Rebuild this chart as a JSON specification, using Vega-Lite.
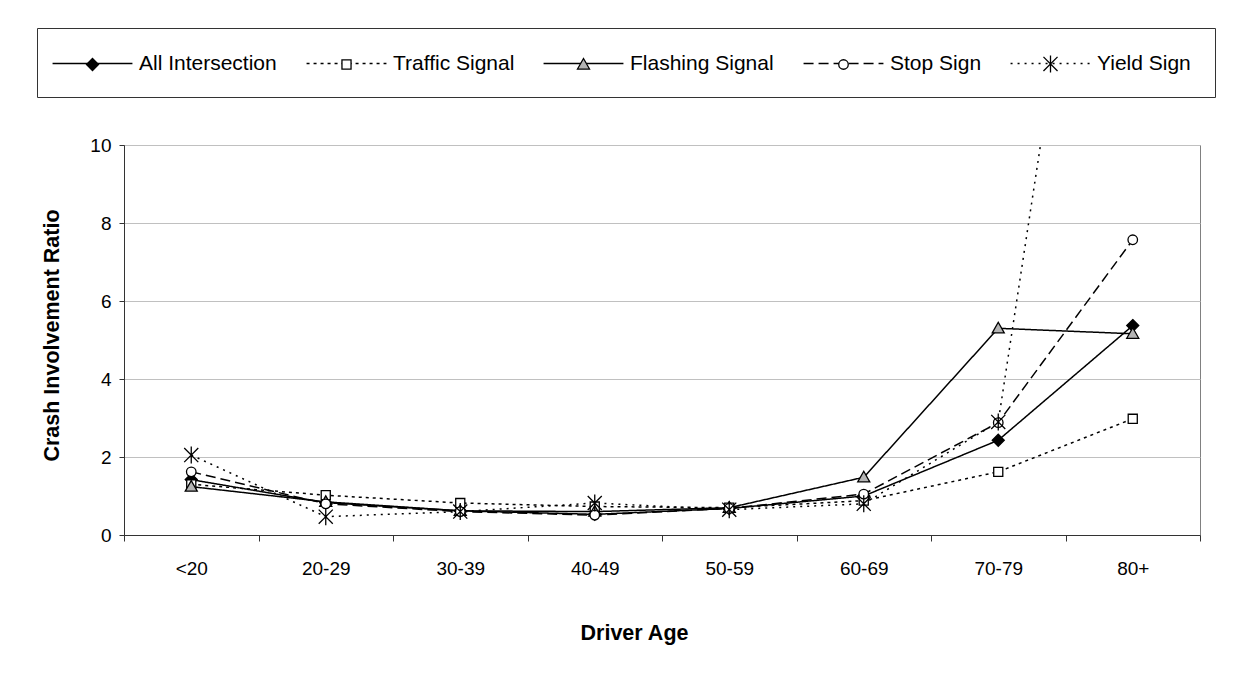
{
  "$schema": "https://vega.github.io/schema/vega-lite/v6.json",
  "width": 1076,
  "height": 390,
  "autosize": {"type": "none"},
  "padding": {"left": 124, "top": 145, "right": 33, "bottom": 152},
  "background": "white",
  "config": {
    "font": "Liberation Sans",
    "view": {"stroke": "#808080", "strokeWidth": 1},
    "axis": {
      "labelFont": "Liberation Sans",
      "titleFont": "Liberation Sans",
      "labelColor": "black",
      "titleColor": "black",
      "labelFontSize": 19,
      "titleFontSize": 21.5,
      "titleFontWeight": "bold",
      "domainColor": "#333333",
      "tickColor": "#333333"
    }
  },
  "data": {
    "values": [
      {"series": "All Intersection", "age": "<20", "ratio": 1.42},
      {"series": "All Intersection", "age": "20-29", "ratio": 0.83},
      {"series": "All Intersection", "age": "30-39", "ratio": 0.62},
      {"series": "All Intersection", "age": "40-49", "ratio": 0.53},
      {"series": "All Intersection", "age": "50-59", "ratio": 0.68},
      {"series": "All Intersection", "age": "60-69", "ratio": 1.0},
      {"series": "All Intersection", "age": "70-79", "ratio": 2.43},
      {"series": "All Intersection", "age": "80+", "ratio": 5.37},
      {"series": "Traffic Signal", "age": "<20", "ratio": 1.3},
      {"series": "Traffic Signal", "age": "20-29", "ratio": 1.02},
      {"series": "Traffic Signal", "age": "30-39", "ratio": 0.82},
      {"series": "Traffic Signal", "age": "40-49", "ratio": 0.73},
      {"series": "Traffic Signal", "age": "50-59", "ratio": 0.7},
      {"series": "Traffic Signal", "age": "60-69", "ratio": 0.88},
      {"series": "Traffic Signal", "age": "70-79", "ratio": 1.62},
      {"series": "Traffic Signal", "age": "80+", "ratio": 2.98},
      {"series": "Flashing Signal", "age": "<20", "ratio": 1.24},
      {"series": "Flashing Signal", "age": "20-29", "ratio": 0.85},
      {"series": "Flashing Signal", "age": "30-39", "ratio": 0.62},
      {"series": "Flashing Signal", "age": "40-49", "ratio": 0.6},
      {"series": "Flashing Signal", "age": "50-59", "ratio": 0.7},
      {"series": "Flashing Signal", "age": "60-69", "ratio": 1.48},
      {"series": "Flashing Signal", "age": "70-79", "ratio": 5.3},
      {"series": "Flashing Signal", "age": "80+", "ratio": 5.16},
      {"series": "Stop Sign", "age": "<20", "ratio": 1.62},
      {"series": "Stop Sign", "age": "20-29", "ratio": 0.8},
      {"series": "Stop Sign", "age": "30-39", "ratio": 0.6},
      {"series": "Stop Sign", "age": "40-49", "ratio": 0.51},
      {"series": "Stop Sign", "age": "50-59", "ratio": 0.68},
      {"series": "Stop Sign", "age": "60-69", "ratio": 1.05},
      {"series": "Stop Sign", "age": "70-79", "ratio": 2.88},
      {"series": "Stop Sign", "age": "80+", "ratio": 7.57},
      {"series": "Yield Sign", "age": "<20", "ratio": 2.05},
      {"series": "Yield Sign", "age": "20-29", "ratio": 0.47},
      {"series": "Yield Sign", "age": "30-39", "ratio": 0.6},
      {"series": "Yield Sign", "age": "40-49", "ratio": 0.82},
      {"series": "Yield Sign", "age": "50-59", "ratio": 0.65},
      {"series": "Yield Sign", "age": "60-69", "ratio": 0.8},
      {"series": "Yield Sign", "age": "70-79", "ratio": 2.9},
      {"series": "Yield Sign", "age": "80+", "ratio": 25.5}
    ]
  },
  "encoding": {
    "x": {
      "field": "age",
      "type": "ordinal",
      "sort": ["<20", "20-29", "30-39", "40-49", "50-59", "60-69", "70-79", "80+"],
      "scale": {"type": "band", "paddingInner": 0, "paddingOuter": 0},
      "axis": {
        "title": "Driver Age",
        "labelAngle": 0,
        "tickBand": "extent",
        "tickSize": 6,
        "labelPadding": 18,
        "grid": false,
        "titleX": 510,
        "titleY": 98,
        "titleAlign": "center",
        "titleBaseline": "middle"
      }
    },
    "y": {
      "field": "ratio",
      "type": "quantitative",
      "scale": {"domain": [0, 10], "nice": false, "zero": true},
      "axis": {
        "title": "Crash Involvement Ratio",
        "values": [0, 2, 4, 6, 8, 10],
        "tickSize": 5,
        "labelPadding": 8,
        "grid": true,
        "gridColor": "#C0C0C0",
        "gridWidth": 1,
        "titleX": -72,
        "titleY": 190,
        "titleAlign": "center",
        "titleBaseline": "middle"
      }
    }
  },
  "layer": [
    {
      "mark": {"type": "line", "clip": true, "color": "black", "strokeWidth": 1.5},
      "encoding": {
        "order": {"value": null},
        "strokeDash": {
          "field": "series",
          "type": "nominal",
          "sort": ["All Intersection", "Traffic Signal", "Flashing Signal", "Stop Sign", "Yield Sign"],
          "scale": {"range": [[1, 0], [3, 4], [1, 0], [10, 5], [2, 5]]},
          "legend": {
            "orient": "none",
            "legendX": -87,
            "legendY": -117,
            "direction": "horizontal",
            "columns": 5,
            "title": null,
            "symbolType": "M-3.52,0H3.52",
            "symbolSize": 515,
            "symbolOffset": 20,
            "symbolStrokeColor": "black",
            "symbolStrokeWidth": 1.3,
            "symbolFillColor": "transparent",
            "symbolOpacity": 1,
            "labelFont": "Liberation Sans",
            "labelFontSize": 21,
            "labelColor": "black",
            "labelOffset": 34.5,
            "columnPadding": 26,
            "padding": 23.5,
            "strokeColor": "#333333"
          }
        }
      }
    },
    {
      "mark": {"type": "point", "clip": true, "filled": true, "size": 515, "opacity": 1, "strokeWidth": 1.3},
      "encoding": {
        "shape": {
          "field": "series",
          "type": "nominal",
          "scale": {
            "domain": ["All Intersection", "Traffic Signal", "Flashing Signal", "Stop Sign", "Yield Sign"],
            "range": [
              "M-3.52,0L-3.52,0M0,-0.53L0.53,0L0,0.53L-0.53,0Z",
              "M-3.52,0L-3.52,0M-0.4,-0.4H0.4V0.4H-0.4Z",
              "M-3.52,0L-3.52,0M0,-0.53L0.53,0.4L-0.53,0.4Z",
              "M-3.52,0L-3.52,0M0.42,0A0.42,0.42 0 1 1 -0.42,0A0.42,0.42 0 1 1 0.42,0Z",
              "M-3.52,0L-3.52,0M0,-0.75V0.75M-0.62,-0.62L0.62,0.62M-0.62,0.62L0.62,-0.62"
            ]
          },
          "legend": {
            "orient": "none",
            "legendX": -87,
            "legendY": -117,
            "direction": "horizontal",
            "columns": 5,
            "title": null,
            "symbolSize": 515,
            "symbolOffset": 20,
            "symbolStrokeWidth": 1.3,
            "symbolOpacity": 1,
            "labelFont": "Liberation Sans",
            "labelFontSize": 21,
            "labelColor": "black",
            "labelOpacity": 0,
            "labelOffset": 34.5,
            "columnPadding": 26,
            "padding": 23.5
          }
        },
        "fill": {
          "field": "series",
          "type": "nominal",
          "scale": {
            "domain": ["All Intersection", "Traffic Signal", "Flashing Signal", "Stop Sign", "Yield Sign"],
            "range": ["black", "white", "#B4B4B4", "white", "transparent"]
          },
          "legend": {
            "orient": "none",
            "legendX": -87,
            "legendY": -117,
            "direction": "horizontal",
            "columns": 5,
            "title": null,
            "symbolSize": 515,
            "symbolOffset": 20,
            "symbolStrokeWidth": 1.3,
            "symbolOpacity": 1,
            "labelFont": "Liberation Sans",
            "labelFontSize": 21,
            "labelColor": "black",
            "labelOpacity": 0,
            "labelOffset": 34.5,
            "columnPadding": 26,
            "padding": 23.5
          }
        },
        "stroke": {
          "field": "series",
          "type": "nominal",
          "scale": {
            "domain": ["All Intersection", "Traffic Signal", "Flashing Signal", "Stop Sign", "Yield Sign"],
            "range": ["black", "black", "black", "black", "black"]
          },
          "legend": {
            "orient": "none",
            "legendX": -87,
            "legendY": -117,
            "direction": "horizontal",
            "columns": 5,
            "title": null,
            "symbolSize": 515,
            "symbolOffset": 20,
            "symbolStrokeWidth": 1.3,
            "symbolOpacity": 1,
            "labelFont": "Liberation Sans",
            "labelFontSize": 21,
            "labelColor": "black",
            "labelOpacity": 0,
            "labelOffset": 34.5,
            "columnPadding": 26,
            "padding": 23.5
          }
        }
      }
    }
  ]
}
